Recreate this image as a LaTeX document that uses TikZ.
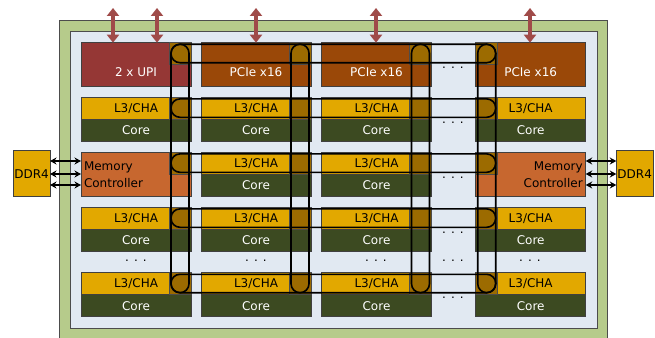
\documentclass[tikz,border=0pt]{standalone}
\usepackage{fontspec}
\setmainfont{DejaVu Sans}
\usetikzlibrary{arrows.meta}
\usetikzlibrary{calc}

\definecolor{pkggreen}{HTML}{B6CB8B}
\definecolor{diebg}{HTML}{E1E9F2}
\definecolor{upired}{HTML}{953735}
\definecolor{pcieorange}{HTML}{9A4808}
\definecolor{llcyellow}{HTML}{E2A800}
\definecolor{coregreen}{HTML}{3C4A21}
\definecolor{mcorange}{HTML}{C7672F}
\definecolor{stopbrown}{HTML}{9C6B00}

\begin{document}
\begin{tikzpicture}[x=1pt, y=-1pt,
  every node/.style={font=\fontsize{12}{17}\selectfont, inner sep=0pt, outer sep=0pt},
  tile/.style={draw=black!75, line width=0.6pt, anchor=north west, minimum width=110pt, minimum height=22pt},
  iotile/.style={tile, minimum height=44pt, text height=33.7pt, text depth=10.3pt, text=white},
  llc/.style={tile, fill=llcyellow},
  core/.style={tile, fill=coregreen, text=white},
  mc/.style={tile, fill=mcorange, minimum height=44pt, text width=104pt},
  ddr/.style={draw=black!75, line width=0.6pt, fill=llcyellow, minimum width=36.7pt, minimum height=46pt},
  stop/.style={draw=black!70, line width=0.5pt, fill=stopbrown, anchor=north west, minimum size=22pt},
  ring/.style={line width=1.6pt, rounded corners=9pt},
  dots/.style={text height=10pt, text depth=1.5pt},
  ioarrow/.style={upired!90!white, line width=4pt, {Triangle[width=12pt,length=8pt]}-{Triangle[width=12pt,length=8pt]}},
  memarrow/.style={line width=1.3pt, {Stealth[width=7pt,length=6.5pt]}-{Stealth[width=7pt,length=6.5pt]}}
]
  \useasboundingbox (0,0) rectangle (655,337);

  % 封装与芯片底色
  \draw[fill=pkggreen, draw=black!70, line width=0.8pt] (59,20) rectangle (607,345);
  \draw[fill=diebg, draw=black!70, line width=0.8pt] (70,31) rectangle (597,328);

  % 顶部 I/O
  \node[iotile, fill=upired] (io1) at (81,42.7) {2 x UPI};
  \node[iotile, fill=pcieorange] (io2) at (201,42.7) {PCIe x16};
  \node[iotile, fill=pcieorange] (io3) at (321.5,42.7) {PCIe x16};
  \node[iotile, fill=pcieorange] (io4) at (475.7,42.7) {PCIe x16};

  % L3/CHA 与 Core
  \foreach \r/\y in {1/97.3, 3/207.3, 4/272.7}
    \foreach \c/\x in {1/81, 2/201, 3/321.5, 4/475.7} {
      \node[llc] (llc\r\c) at (\x,\y) {L3/CHA};
      \node[core] (core\r\c) at (\x,\y+22) {Core};
    }
  \foreach \c/\x in {2/201, 3/321.5} {
    \node[llc] (llc2\c) at (\x,152.3) {L3/CHA};
    \node[core] (core2\c) at (\x,174.3) {Core};
  }

  % 内存控制器
  \node[mc, align=left] (mcL) at (81,152.3) {Memory\\Controller};
  \node[mc, align=right] (mcR) at (475.7,152.3) {Memory\\Controller};

  % 网格节点
  \foreach \r/\y in {0/42.7, 1/97.3, 2/152.3, 3/207.3, 4/272.7}
    \foreach \c/\x in {1/169, 2/289, 3/409.5, 4/475.7}
      \node[stop] (ms\r\c) at (\x,\y) {};

  % 纵向环
  \foreach \c in {1,...,4}
    \draw[ring] ($(ms0\c.north west)+(2,1.5)$) rectangle ($(ms4\c.south east)+(-2,-2)$);
  % 横向环
  \foreach \r in {0,...,4}
    \draw[ring] ($(ms\r1.north west)+(2,1.6)$) rectangle ($(ms\r4.south east)+(-2,-2)$);

  % 省略号
  \foreach \y [count=\i] in {64.7, 119.3, 174.3, 229.3, 257, 294.7}
    \node[dots] (gap\i) at (453,\y) {. . .};
  \foreach \x [count=\i] in {136, 256, 376, 530}
    \node[dots] (vdots\i) at (\x,257) {. . .};

  % DDR4
  \node[ddr, anchor=north west] (ddrL) at (13.3,150.7) {DDR4};
  \node[ddr, anchor=north east] (ddrR) at (653,150.7) {DDR4};
  \foreach \y [count=\i] in {161, 174, 185} {
    \coordinate (mem\i) at (0,\y);
    \draw[memarrow] (ddrL.east |- mem\i) -- (mcL.west |- mem\i);
    \draw[memarrow] (mcR.east |- mem\i) -- (ddrR.west |- mem\i);
  }

  % 顶部 I/O 箭头
  \foreach \x/\t [count=\i] in {113/io1, 157/io1, 256/io2, 376/io3, 530/io4} {
    \coordinate (pin\i) at (\x,8);
    \draw[ioarrow] (pin\i) -- (pin\i |- \t.north);
  }
\end{tikzpicture}
\end{document}
